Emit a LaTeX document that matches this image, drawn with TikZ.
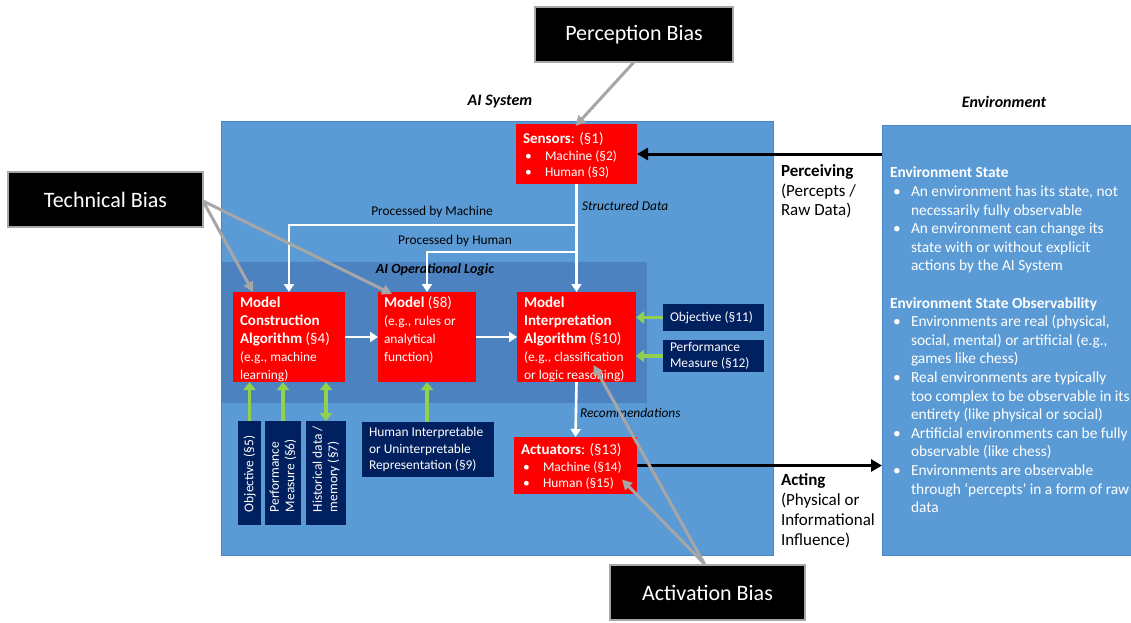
\documentclass[tikz,border=0pt]{standalone}
\usepackage{fontspec}
\setmainfont{Carlito}
\usetikzlibrary{arrows.meta,calc}
\definecolor{sysblue}{HTML}{5B9BD5}
\definecolor{sysedge}{HTML}{4A86C4}
\definecolor{logicblue}{HTML}{4C82C0}
\definecolor{navy}{HTML}{002060}
\definecolor{lgreen}{HTML}{92D050}
\definecolor{biasgray}{HTML}{A6A6A6}
\definecolor{boxred}{HTML}{FF0000}
\newcommand{\bul}{\hspace*{2pt}\makebox[20pt][l]{\textbullet}}
\newcommand{\ebul}{\hspace*{3pt}\makebox[18pt][l]{\textbullet}}
\newcommand{\eind}{\hspace*{21pt}}
\newcommand{\vbx}[3]{\rotatebox{90}{\parbox[c][#1][c]{#2}{\fontsize{13.4}{15.5}\selectfont\leftskip=13pt\relax #3}}}
\begin{document}
\begin{tikzpicture}[x=1pt,y=-1pt,
  font=\fontsize{13.4}{16.5}\selectfont,
  every node/.style={inner sep=0pt,outer sep=0pt},
  redbox/.style={fill=boxred,text=white,anchor=north west,inner xsep=7pt,inner ysep=0pt},
  navybox/.style={fill=navy,text=white,anchor=north west,inner sep=0pt},
  biasbox/.style={fill=black,draw=biasgray,line width=1.2pt,text=white,anchor=north west,
     font=\fontsize{22}{26}\selectfont,align=center},
  warrow/.style={draw=white,line width=2.6pt,-{Triangle[length=8pt,width=10pt]}},
  garrow/.style={draw=lgreen,line width=3.6pt,-{Triangle[length=8pt,width=12pt]}},
  gdarrow/.style={draw=lgreen,line width=3.6pt,{Triangle[length=8pt,width=12pt]}-{Triangle[length=8pt,width=12pt]}},
  karrow/.style={draw=black,line width=3pt,-{Triangle[length=11pt,width=12pt]}},
  grarrow/.style={draw=biasgray,line width=3pt,-{Triangle[length=10pt,width=10pt]}},
  title/.style={font=\fontsize{16}{19}\selectfont\bfseries\itshape},
  lbl/.style={font=\fontsize{13.4}{16}\selectfont},
  ilbl/.style={font=\fontsize{13.4}{16}\selectfont\itshape,anchor=west},
]
\useasboundingbox (0,0) rectangle (1131,622);
\fill[white] (0,0) rectangle (1131,622);

% containers
\node[draw=sysedge,fill=sysblue,line width=0.8pt,anchor=north west,minimum width=552pt,minimum height=434pt] (aisys) at (221,121) {};
\node[draw=sysedge,fill=sysblue,line width=0.8pt,anchor=north west,minimum width=270pt,minimum height=430pt] (envbox) at (882,125) {};
\node[fill=logicblue,anchor=north west,minimum width=425pt,minimum height=141pt] (logic) at (222,262) {};

\node[title] (aititle) at (500,102) {AI System};
\node[title] (envtitle) at (1004,102) {Environment};
\node[font=\fontsize{14}{17}\selectfont\bfseries\itshape] (logictitle) at (435,270) {AI Operational Logic};

% red boxes
\node[redbox] (sensors) at (516,124) {\parbox[c][60pt][t]{107pt}{\vspace*{9pt}{\fontsize{15}{17}\selectfont\textbf{Sensors}: (§1)}\\\bul Machine (§2)\\\bul Human (§3)}};
\node[redbox] (construct) at (233,292) {\parbox[c][90pt][t]{98pt}{\fontsize{13.4}{18}\selectfont\vspace*{5pt}{\fontsize{15}{18}\selectfont\bfseries Model\\Construction\\Algorithm \mdseries(§4)}\\(e.g., machine\\learning)}};
\node[redbox,inner xsep=6pt] (model) at (378,292) {\parbox[c][90pt][t]{86pt}{\fontsize{13.4}{18}\selectfont\vspace*{5pt}{\fontsize{15}{18}\selectfont\textbf{Model} (§8)}\\(e.g., rules or\\analytical\\function)}};
\node[redbox] (interp) at (517,292) {\parbox[c][90pt][t]{105pt}{\fontsize{13.4}{18}\selectfont\vspace*{5pt}{\fontsize{15}{18}\selectfont\bfseries Model\\Interpretation\\Algorithm \mdseries(§10)}\\(e.g., classification\\or logic reasoning)}};
\node[redbox] (act) at (514,437) {\parbox[c][57pt][t]{109pt}{\vspace*{7pt}{\fontsize{15}{17}\selectfont\textbf{Actuators}: (§13)}\\\bul Machine (§14)\\\bul Human (§15)}};

% navy boxes
\node[navybox,inner xsep=7pt] (obj11) at (663,304) {\parbox[c][27pt][c]{87pt}{Objective (§11)}};
\node[navybox,inner xsep=7pt] (perf12) at (663,340) {\parbox[c][32pt][c]{87pt}{\fontsize{13.4}{16}\selectfont Performance\\Measure (§12)}};
\node[navybox] (obj5) at (238,421) {\vbx{23pt}{104pt}{Objective (§5)}};
\node[navybox] (perf6) at (265,421) {\vbx{36pt}{104pt}{Performance\\Measure (§6)}};
\node[navybox] (hist7) at (306,421) {\vbx{40pt}{104pt}{Historical data /\\memory (§7)}};
\node[navybox,inner xsep=7pt] (hi) at (362,422) {\parbox[c][55pt][c]{118pt}{\fontsize{13.4}{16.5}\selectfont Human Interpretable\\or Uninterpretable\\Representation (§9)}};

% environment text
\node[anchor=north west,text=white] (envtext) at (890,167) {\parbox[t]{250pt}{\fontsize{15.4}{18.6}\selectfont
\textbf{Environment State}\\
\ebul An environment has its state, not\\
\eind necessarily fully observable\\
\ebul An environment can change its\\
\eind state with or without explicit\\
\eind actions by the AI System\\[18.6pt]
\textbf{Environment State Observability}\\
\ebul Environments are real (physical,\\
\eind social, mental) or artificial (e.g.,\\
\eind games like chess)\\
\ebul Real environments are typically\\
\eind too complex to be observable in its\\
\eind entirety (like physical or social)\\
\ebul Artificial environments can be fully\\
\eind observable (like chess)\\
\ebul Environments are observable\\
\eind through ‘percepts’ in a form of raw\\
\eind data}};

% white flow
\coordinate (j1) at (576,225);
\coordinate (j2) at (576,252);
\draw[warrow] (sensors.south) -- (interp.north);
\draw[warrow] (j1) -| (construct.north);
\draw[warrow] (j2) -| (model.north);
\draw[warrow] (construct.east) -- (model.west);
\draw[warrow] (model.east) -- (interp.west);
\draw[warrow] (interp.south) -- (act.north);

\node[lbl] (pm) at (432,212) {Processed by Machine};
\node[lbl] (ph) at (455,241) {Processed by Human};
\node[ilbl] (sd) at (582,206) {Structured Data};
\node[ilbl] (rec) at (580,413) {Recommendations};

% green arrows
\draw[garrow] (obj11.west) -- (obj11.west -| interp.east);
\draw[garrow] (perf12.west) -- (perf12.west -| interp.east);
\draw[garrow] (obj5.north) -- (obj5.north |- construct.south);
\draw[garrow] (perf6.north) -- (perf6.north |- construct.south);
\draw[gdarrow] (hist7.north) -- (hist7.north |- construct.south);
\draw[garrow] (hi.north -| model.south) -- (model.south);

% black arrows
\draw[karrow] (envbox.west |- sensors.east) -- (sensors.east);
\draw[karrow] (act.east) -- (envbox.west |- act.east);

\node[anchor=north west,align=left,font=\fontsize{17}{19.5}\selectfont] (perc) at (781,165) {\textbf{Perceiving}\\(Percepts /\\Raw Data)};
\node[anchor=north west,align=left,font=\fontsize{17}{20}\selectfont] (acting) at (781,474) {\textbf{Acting}\\(Physical or\\Informational\\Influence)};

% bias boxes
\node[biasbox,minimum width=198pt,minimum height=55pt] (pb) at (535,7) {Perception Bias};
\node[biasbox,minimum width=195pt,minimum height=55pt] (tb) at (8,172) {Technical Bias};
\node[biasbox,minimum width=195pt,minimum height=55pt] (ab) at (610,565) {Activation Bias};

\draw[grarrow] ([xshift=0pt]pb.south) -- ([xshift=-1pt,yshift=-2pt]sensors.north);
\draw[grarrow] ([yshift=-29pt]tb.north east) -- ([xshift=20pt]construct.north west);
\draw[grarrow] ([yshift=-29pt]tb.north east) -- ([xshift=14pt,yshift=-2pt]model.north west);
\draw[grarrow] ([xshift=-3pt,yshift=1pt]ab.north) -- ([xshift=-15pt,yshift=-14pt]act.east);
\draw[grarrow] ([xshift=-3pt,yshift=1pt]ab.north) -- ([xshift=17pt,yshift=17pt]interp.south);
\end{tikzpicture}
\end{document}
